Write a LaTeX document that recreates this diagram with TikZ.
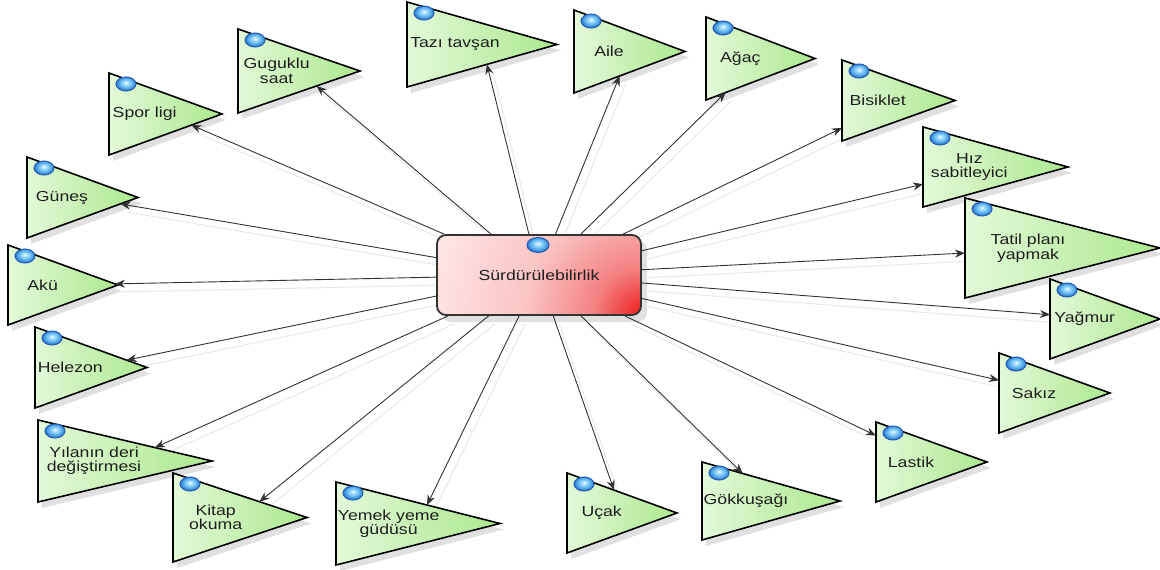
\documentclass[tikz,border=0pt]{standalone}
\usepackage{fontspec}
\setmainfont{Liberation Sans}
\newfontfamily\lblfont[FakeStretch=1.22]{Liberation Sans}
\usetikzlibrary{arrows.meta,intersections}
\definecolor{leafL}{RGB}{226,249,216}
\definecolor{leafR}{RGB}{172,232,142}
\definecolor{txtc}{RGB}{30,30,30}
\definecolor{boxL}{RGB}{255,234,234}
\definecolor{boxM}{RGB}{250,196,196}
\definecolor{boxN}{RGB}{244,130,130}
\definecolor{boxC}{RGB}{236,30,30}
\definecolor{sphL}{RGB}{175,228,252}
\definecolor{sphM}{RGB}{95,180,238}
\definecolor{sphD}{RGB}{45,115,205}
\definecolor{sphedge}{RGB}{35,95,180}
\definecolor{lnc}{RGB}{50,50,50}
\pgfdeclareradialshading{boxshade}{\pgfpoint{0bp}{0bp}}{color(0bp)=(boxC); color(5bp)=(boxN); color(12bp)=(boxM); color(24bp)=(boxL); color(50bp)=(boxL)}
\pgfdeclareradialshading{sphshade}{\pgfpoint{0bp}{5bp}}{color(0bp)=(white); color(5bp)=(sphL); color(16bp)=(sphM); color(25bp)=(sphD); color(50bp)=(sphD)}
\pgfdeclarelayer{bg}
\pgfsetlayers{bg,main}
\begin{document}
\begin{tikzpicture}[x=1pt,y=-1pt,
  leaf/.style={draw=black, line width=1.6pt, line join=miter, left color=leafL, right color=leafR},
  lbl/.style={font=\lblfont\fontsize{14.5}{14.5}\selectfont, text=txtc, align=center, inner sep=0pt},
  conn/.style={draw=lnc, line width=0.9pt, -{Stealth[length=10pt,width=8pt]}},
  ghost/.style={draw=black!9, line width=1pt},
  sphere/.style={shading=sphshade, draw=sphedge, line width=1pt},
  shadowfill/.style={fill=black, opacity=0.12},
  hub/.style={draw=black!80, line width=1.8pt, rounded corners=9pt,
    minimum width=204pt, minimum height=80pt, fill=boxL,
    path picture={\shade[shading=boxshade] (path picture bounding box.south east) circle (240pt);},
    font=\lblfont\fontsize{14.5}{14.5}\selectfont, text=txtc}
]
\useasboundingbox (0,0) rectangle (1160,570);
\begin{pgfonlayer}{bg}
  \fill[shadowfill, rounded corners=9pt] (442,241) rectangle (647,322);
\end{pgfonlayer}
\node[hub] (c) at (539,275) {Sürdürülebilirlik};
\shadedraw[sphere] (538,245) ellipse [x radius=11pt, y radius=7.5pt];
\foreach \n/\xo/\yt/\yb/\xa/\tx in {
  gunes/27/157/238/138/{Güneş},
  aku/8/245/325/118/{Akü},
  spor/109/73/155/222/{Spor ligi},
  guguk/238/29/113/360/{Guguklu\\saat},
  tazi/407/2/87/557/{Tazı tavşan},
  aile/574/10/93/685/{Aile},
  agac/706/17/100/815/{Ağaç},
  bisiklet/842/60/141/955/{Bisiklet},
  hiz/923/127/207/1068/{Hız\\sabitleyici},
  tatil/965/198/298/1160/{Tatil planı\\yapmak},
  yagmur/1050/279/359/1160/{Yağmur},
  sakiz/999/353/433/1110/{Sakız},
  lastik/876/422/502/987/{Lastik},
  gokkusagi/702/462/540/840/{Gökkuşağı},
  ucak/567/473/553/677/{Uçak},
  yemek/336/482/565/500/{Yemek yeme\\güdüsü},
  kitap/173/473/562/307/{Kitap\\okuma},
  yilan/38/420/502/212/{Yılanın deri\\değiştirmesi},
  helezon/35/327/408/147/{Helezon}}
{
  \pgfmathsetmacro\ym{(\yt+\yb)/2}
  \pgfmathsetmacro\xc{(\xo+\xa)/2}
  \pgfmathsetmacro\xt{(2*\xo+\xa)/3-2}
  \begin{pgfonlayer}{bg}
    \fill[shadowfill] (\xo+4,\yt+6) -- (\xa+4,\ym+6) -- (\xo+4,\yb+6) -- cycle;
  \end{pgfonlayer}
  \path[leaf, name path=tri] (\xo,\yt) -- (\xa,\ym) -- (\xo,\yb) -- cycle;
  \coordinate (\n) at (\xc,\ym);
  \node[lbl] (\n-l) at (\xt,\ym) {\tx};
  \shadedraw[sphere] (\xo+17,\yt+11) ellipse [x radius=10pt, y radius=7pt];
  \path[name path=ray] (c.center) -- (\n);
  \path[name intersections={of=tri and ray}] (c) -- (intersection-1)
    coordinate[pos=0] (\n-s) coordinate[pos=1] (\n-e);
  \begin{pgfonlayer}{bg}
    \draw[ghost, transform canvas={shift={(6pt,-8pt)}}] (\n-s) -- (\n-e);
  \end{pgfonlayer}
  \draw[conn] (c) -- (\n-e);
}
\end{tikzpicture}
\end{document}
